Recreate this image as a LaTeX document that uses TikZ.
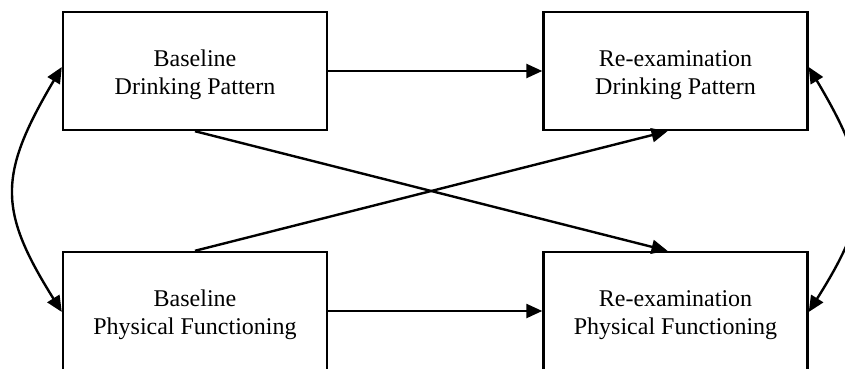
\documentclass[tikz,border=0pt]{standalone}
\usepackage{fontspec}
\setmainfont{Liberation Serif}
\usetikzlibrary{arrows.meta}

% invisible strut that gives the first line a little more headroom
\newcommand{\headstrut}{\rule{0pt}{24pt}}

\tikzset{
  varbox/.style={draw, line width=2.4pt, minimum width=264pt, minimum height=118pt,
    inner sep=0pt, align=center, font=\fontsize{24}{28}\selectfont},
  path/.style={line width=2.4pt, -{Triangle[length=16pt,width=14pt]}},
  covar/.style={line width=2.4pt, {Triangle[length=16pt,width=14pt]}-{Triangle[length=16pt,width=14pt]}}
}

\begin{document}
\begin{tikzpicture}[x=1pt, y=-1pt]
  \clip (0,0) rectangle (845,369);

  % the four measured variables
  \node[varbox] (tl) at (195,71)   {\headstrut Baseline\\Drinking Pattern};
  \node[varbox] (tr) at (675.5,71) {\headstrut Re-examination\\Drinking Pattern};
  \node[varbox] (bl) at (195,311)  {\headstrut Baseline\\Physical Functioning};
  \node[varbox] (br) at (675.5,311){\headstrut Re-examination\\Physical Functioning};

  % auto-regressive paths
  \draw[path] (tl.east) -- (tr.west);
  \draw[path] (bl.east) -- (br.west);

  % cross-lagged paths
  \draw[path] (tl.south) -- ([xshift=-8pt]br.north);
  \draw[path] (bl.north) -- ([xshift=-8pt]tr.south);

  % covariances
  \draw[covar] ([yshift=4pt]tl.west) .. controls (-2,175) and (-2,210) .. ([yshift=-1pt]bl.west);
  \draw[covar] ([yshift=4pt]tr.east) .. controls (873,175) and (873,210) .. ([yshift=-1pt]br.east);
\end{tikzpicture}
\end{document}
